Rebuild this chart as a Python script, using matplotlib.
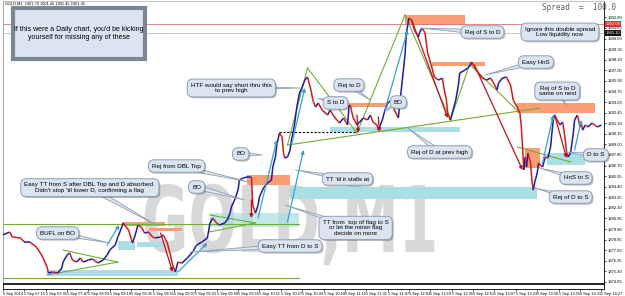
import numpy as np
import matplotlib
matplotlib.use('Agg')
import matplotlib.pyplot as plt
from matplotlib.collections import LineCollection
from matplotlib.patches import Rectangle, PathPatch
from matplotlib.textpath import TextPath
from matplotlib.font_manager import FontProperties
from matplotlib.transforms import Affine2D
import matplotlib.patheffects as pe

# ---- data (minutes after 06:59, price) ----
bar_minute = [0, 5, 7, 13, 16, 20, 25, 28, 30, 33, 34, 37, 41, 44, 45, 48, 50, 52, 55, 58,
              60, 64, 67, 71, 75, 78, 80, 84, 86, 89, 90, 94, 97, 99, 101, 104, 106, 109, 112, 114,
              118, 120, 123, 125, 127, 129, 131, 134, 138, 142, 145, 149, 153, 155, 157, 160, 162, 166, 168, 170,
              171, 174, 176, 177, 180, 183, 186, 187, 189, 191, 192, 195, 198, 201, 202, 204, 205, 207, 209, 210,
              211, 213, 215, 216, 218, 220, 222, 224, 226, 228, 230, 231, 232, 234, 236, 239, 243, 245, 247, 250,
              252, 255, 258, 259, 260, 262, 265, 267, 270, 273, 275, 277, 280, 281, 284, 286, 288, 291, 293, 296,
              297, 299, 301, 302, 304, 306, 308, 311, 312, 314, 316, 317, 318, 321, 323, 326, 329, 330, 332, 333,
              335, 337, 339, 341, 342, 346, 348, 350, 351, 353, 356, 359, 362, 365, 367, 370, 371, 374, 377, 380,
              381, 382, 385, 387, 388, 389, 390, 391, 392, 393, 395, 396, 397, 398, 400, 401, 404, 406, 408, 410,
              411, 412, 413, 415, 417, 419, 420, 421, 422, 423, 425, 426, 427, 428, 430, 431, 432, 433, 434, 436,
              438, 441, 443, 445, 448]
close_price = [1879.16, 1879.48, 1878.94, 1878.83, 1878.40, 1878.40, 1877.85, 1877.20, 1876.66, 1875.68,
               1875.03, 1875.14, 1875.03, 1875.57, 1876.22, 1876.98, 1877.20, 1876.44, 1876.22, 1876.66,
               1876.22, 1876.44, 1876.55, 1876.12, 1876.44, 1876.98, 1877.53, 1878.07, 1878.94, 1880.03,
               1880.46, 1879.70, 1878.29, 1879.16, 1880.24, 1879.92, 1879.37, 1879.48, 1878.94, 1878.83,
               1878.94, 1879.16, 1878.29, 1877.20, 1875.90, 1875.14, 1876.22, 1876.10, 1876.66, 1877.31,
               1878.07, 1878.40, 1878.83, 1880.46, 1881.00, 1880.46, 1880.24, 1880.46, 1880.79, 1881.54,
               1882.20, 1883.17, 1884.04, 1885.13, 1885.35, 1885.46, 1885.46, 1882.40, 1881.54, 1882.40,
               1883.28, 1884.26, 1884.80, 1885.13, 1886.54, 1887.63, 1888.93, 1890.24, 1889.80, 1888.06,
               1887.52, 1887.63, 1888.39, 1889.48, 1890.89, 1893.06, 1894.59, 1895.24, 1895.99, 1896.32,
               1895.24, 1894.59, 1893.82, 1893.06, 1893.50, 1892.74, 1892.19, 1892.74, 1892.19, 1891.65,
               1891.32, 1891.87, 1891.11, 1893.06, 1893.28, 1891.98, 1891.11, 1891.43, 1891.87, 1891.65,
               1892.19, 1891.43, 1891.11, 1890.56, 1891.65, 1892.74, 1893.50, 1893.82, 1892.74, 1891.87,
               1893.28, 1895.99, 1898.71, 1901.10, 1902.73, 1902.51, 1901.43, 1900.67, 1901.21, 1901.64,
               1901.10, 1900.01, 1898.93, 1897.41, 1896.32, 1895.99, 1896.21, 1895.24, 1893.82, 1892.41,
               1891.65, 1892.74, 1893.82, 1895.45, 1896.76, 1897.08, 1897.30, 1897.62, 1897.95, 1897.41,
               1896.76, 1896.21, 1895.99, 1896.21, 1895.78, 1894.91, 1895.67, 1896.21, 1896.32, 1895.45,
               1894.69, 1893.82, 1893.06, 1892.41, 1891.11, 1888.72, 1886.22, 1887.63, 1886.54, 1888.06,
               1886.98, 1885.13, 1884.04, 1884.80, 1885.89, 1886.98, 1886.54, 1887.63, 1887.52, 1888.72,
               1890.24, 1891.65, 1892.19, 1891.65, 1891.11, 1891.43, 1890.56, 1889.48, 1888.17, 1887.63,
               1888.06, 1889.15, 1890.24, 1891.65, 1892.19, 1891.65, 1890.89, 1891.32, 1890.56, 1891.11,
               1890.89, 1891.32, 1891.11, 1890.89, 1891.11]

ask_price = 1902.08
bid_price = 1901.10
price_ticks = [1874.05 + 1.15 * i for i in range(26)]
time_ticks = list(range(0, 449, 16))
time_labels = ['5 Sep 2014'] + ['5 Sep %02d:%02d' % divmod(6 * 60 + 59 + t, 60) for t in time_ticks[1:]]

# zones (x0, x1, low, high)
supply_zones = [(301, 346, 1901.97, 1903.06), (321, 361, 1897.52, 1897.95), (385, 443, 1892.41, 1893.50),
                (391, 402, 1886.43, 1888.61), (258, 288, 1893.06, 1893.50), (183, 215, 1884.59, 1885.67),
                (89, 121, 1880.13, 1880.57), (109, 134, 1879.59, 1879.92)]
demand_zones = [(86, 99, 1877.53, 1878.50), (100, 120, 1877.85, 1878.40), (33, 131, 1874.70, 1875.35),
                (215, 400, 1883.07, 1884.37), (245, 342, 1890.35, 1890.89), (407, 436, 1886.76, 1888.06)]
flag_zone = (155, 222, 1880.03, 1881.54)

# green trend lines ((x0, y0), (x1, y1))
green_lines = [((0, 1880.35), (222, 1880.35)), ((0, 1874.49), (222, 1874.49)),
               ((33, 1874.81), (86, 1876.22)), ((45, 1877.53), (86, 1876.22)),
               ((155, 1881.33), (189, 1880.46)), ((154, 1879.48), (189, 1880.46)),
               ((213, 1888.93), (402, 1892.95)), ((213, 1888.93), (228, 1897.30)),
               ((228, 1897.30), (265, 1890.24)), ((265, 1890.24), (301, 1903.06)),
               ((301, 1903.06), (335, 1891.65)), ((335, 1891.65), (350, 1897.95)),
               ((350, 1897.62), (387, 1892.41)), ((385, 1888.72), (425, 1887.09))]
red_arrows = [((118, 1879.37), (127, 1875.14)), ((186, 1882.96), (186, 1881.00)),
              ((265, 1892.19), (266, 1890.24)), ((281, 1891.98), (282, 1890.35)),
              ((306, 1902.51), (333, 1891.87)), ((353, 1897.62), (389, 1886.22)),
              ((413, 1892.19), (422, 1887.52))]
blue_arrows = [((78, 1878.07), (87, 1880.24)), ((131, 1875.14), (153, 1878.29)),
               ((191, 1881.00), (205, 1889.48)), ((213, 1880.57), (225, 1888.39)),
               ((216, 1888.93), (226, 1895.13)), ((286, 1892.74), (303, 1901.43)),
               ((404, 1886.98), (412, 1892.19)), ((428, 1888.39), (433, 1891.65))]
dashed_level = (207, 265, 1890.35)

# callouts: text, box centre, tail point
callouts = [
    ("HTF would say short thru this\nto prev high", (171, 1895.13), (222, 1895.13)),
    ("Rej to D", (259, 1895.45), (275, 1893.82)),
    ("S to D", (249, 1893.50), (236, 1894.0)),
    ("BO", (296, 1893.60), (286, 1892.6)),
    ("Rej of S to D", (359, 1901.21), (312, 1901.64)),
    ("Ignore this double spread\nLow liquidity now", (417, 1901.21), None),
    ("Easy HnS", (399, 1897.95), (361, 1896.54)),
    ("Rej of S to D\nsame on next", (415, 1894.8), (422, 1893.2)),
    ("Rej of D at prev high", (327, 1888.17), (303, 1890.78)),
    ("D to S", (444, 1887.85), (422, 1888.17)),
    ("HnS to S", (429, 1885.35), (402, 1886.43)),
    ("Rej of D to S", (425, 1883.28), (398, 1884.26)),
    ("TT 'til it stalls at", (258, 1885.24), (219, 1886.22)),
    ("BO", (178, 1887.96), (194, 1887.85)),
    ("Rej from DBL Top", (130, 1886.65), (185, 1884.9)),
    ("BO", (145, 1884.37), (181, 1882.96)),
    ("Easy TT from S after DBL Top and D absorbed.\nDidn't stop 'til lower D, confirming a flag",
     (65, 1884.3), (116, 1880.13)),
    ("BUFL on BO", (41, 1879.37), (80, 1878.29)),
    ("TT from  top of flag to S\nor let the minor flag\ndecide on more", (264, 1879.92), (211, 1882.41)),
    ("Easy TT from D to S", (215, 1877.96), (140, 1877.31)),
]
note_box = (7.5, 106, 1898.28, 1903.82)
note_text = "If this were a Daily chart, you'd be kicking\nyourself for missing any of these"

# watermark: left, baseline, width (minutes), cap height (price)
wm_left, wm_base, wm_width, wm_cap = 106, 1877.3, 217, 7.3

# ---- figure ----
plt.rcParams['font.family'] = ['Liberation Sans', 'DejaVu Sans']
fig = plt.figure(figsize=(6.25, 2.96), dpi=100)
ax = fig.add_axes([0.0048, 0.0439, 0.9616, 0.9527])
ax.set_xlim(0, 450)
ax.set_ylim(1873.94, 1904.58)

# condensed bold watermark built from a text path
tp = TextPath((0, 0), 'GOLD,M1', size=1, prop=FontProperties(family='DejaVu Sans', weight='bold'))
ext = tp.get_extents()
tr = Affine2D().translate(-ext.x0, 0).scale(wm_width / ext.width, wm_cap / 0.729).translate(wm_left, wm_base)
ax.add_patch(PathPatch(tr.transform_path(tp), fc='#d8d8d8', ec='none', zorder=0))

for x0, x1, lo, hi in supply_zones:
    ax.add_patch(Rectangle((x0, lo), x1 - x0, hi - lo, fc='#fa9c74', ec='none', zorder=1))
for x0, x1, lo, hi in demand_zones:
    ax.add_patch(Rectangle((x0, lo), x1 - x0, hi - lo, fc='#a9dfe2', ec='none', zorder=1))
ax.add_patch(Rectangle((flag_zone[0], flag_zone[2]), flag_zone[1] - flag_zone[0],
                       flag_zone[3] - flag_zone[2], fc='#a9dfe2', ec='none', alpha=0.7, zorder=1))

ax.axhline(ask_price, color='#e07070', lw=0.6, zorder=1)
ax.axhline(bid_price, color='#c0c0c0', lw=0.6, zorder=1)

for (a, b) in green_lines:
    ax.plot([a[0], b[0]], [a[1], b[1]], color='#72ad32', lw=0.8, zorder=3)
ax.plot([dashed_level[0], dashed_level[1]], [dashed_level[2]] * 2, color='black', lw=0.8,
        ls=(0, (2, 1.5)), zorder=3)

# price line coloured by direction
x = np.array(bar_minute, dtype=float)
y = np.array(close_price)
segs = np.stack([np.column_stack([x[:-1], y[:-1]]), np.column_stack([x[1:], y[1:]])], axis=1)
cols = ['#1c1ca8' if d >= 0 else '#d41c1c' for d in np.diff(y)]
ax.add_collection(LineCollection(segs, colors=cols, linewidths=1.1, zorder=4))

for (a, b) in red_arrows:
    ax.annotate('', xy=b, xytext=a, zorder=5,
                arrowprops=dict(arrowstyle='-|>', color='#b8141c', lw=0.9, mutation_scale=5,
                                shrinkA=0, shrinkB=0))
for (a, b) in blue_arrows:
    ax.annotate('', xy=b, xytext=a, zorder=5,
                arrowprops=dict(arrowstyle='-|>', color='#3a9fd2', lw=0.9, mutation_scale=5,
                                shrinkA=0, shrinkB=0))

# callout boxes
box_fc = '#dbe5f1'
box_ec = '#8e9fb4'
shadow = [pe.SimplePatchShadow(offset=(1, -1), alpha=0.35), pe.Normal()]
for txt, pos, tail in callouts:
    kw = {}
    if tail is not None:
        kw['arrowprops'] = dict(arrowstyle='wedge,tail_width=0.9,shrink_factor=0.4', fc=box_fc, ec=box_ec,
                                lw=0.6, shrinkA=0, shrinkB=0, patchA=None)
    ann = ax.annotate(txt, xy=tail if tail is not None else pos, xytext=pos, ha='center', va='center',
                      fontsize=4.5, linespacing=1.1, zorder=8,
                      bbox=dict(boxstyle='round,pad=0.6,rounding_size=0.9', fc=box_fc, ec=box_ec, lw=0.7),
                      **kw)
    ann.get_bbox_patch().set_path_effects(shadow)

ax.add_patch(Rectangle((note_box[0], note_box[2]), note_box[1] - note_box[0], note_box[3] - note_box[2],
                       fc=box_fc, ec='#7c8793', lw=3, zorder=8, path_effects=shadow))
ax.text((note_box[0] + note_box[1]) / 2, (note_box[2] + note_box[3]) / 2, note_text,
        ha='center', va='center', fontsize=5, linespacing=1.2, zorder=9)

# right price axis
ax.yaxis.tick_right()
ax.set_yticks(price_ticks)
ax.set_yticklabels(['%.2f' % v for v in price_ticks])
ax.tick_params(axis='y', labelsize=3, length=1.5, width=0.5, pad=1)
ax.set_xticks([])
for s in ax.spines.values():
    s.set_linewidth(0.6)
ax.spines['left'].set_color('#999999')
ax.spines['top'].set_color('#bbbbbb')
for val, c in [(ask_price, '#e03030'), (bid_price, '#111111')]:
    ax.annotate('%.2f' % val, xy=(1.0, val), xycoords=('axes fraction', 'data'), xytext=(1.2, 0),
                textcoords='offset points', fontsize=3, color='white', va='center', ha='left',
                bbox=dict(boxstyle='square,pad=0.15', fc=c, ec='none'), annotation_clip=False)

# indicator strip and time axis
ax2 = fig.add_axes([0.0048, 0.0236, 0.9616, 0.0169])
ax2.set_xlim(0, 450)
ax2.set_yticks([])
ax2.set_xticks(time_ticks)
ax2.set_xticklabels(time_labels)
ax2.tick_params(axis='x', labelsize=2.8, length=1.5, width=0.5, pad=0.5)
for lab in ax2.get_xticklabels():
    lab.set_ha('left')
for s in ax2.spines.values():
    s.set_linewidth(0.6)

fig.text(5 / 625, 1 - 4 / 296, 'GOLD,M1  1901.70 1901.45 1901.45 1901.45', fontsize=2.8, va='center')
fig.text(542 / 625, 1 - 8 / 296, 'Spread  =  100.0', family='DejaVu Sans Mono', fontsize=5.5,
         color='#606060', va='center')

fig.savefig('out.png', dpi=100, facecolor='white')
